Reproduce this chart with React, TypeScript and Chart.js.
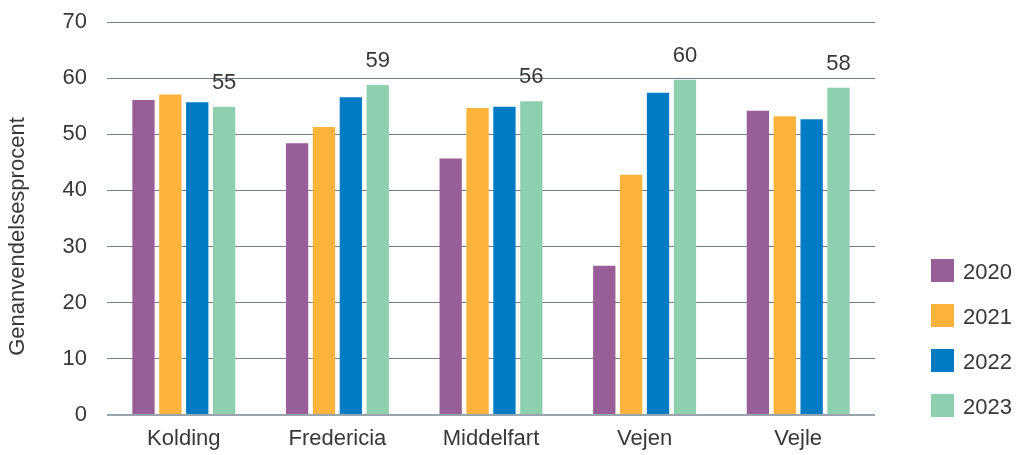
import React, { useEffect, useRef } from "react";
import { Chart, registerables } from "chart.js";

Chart.register(...registerables);

const categories = ["Kolding", "Fredericia", "Middelfart", "Vejen", "Vejle"];
const seriesNames = ["2020", "2021", "2022", "2023"];
const values2020 = [56.1, 48.4, 45.7, 26.6, 54.2];
const values2021 = [57.1, 51.3, 54.7, 42.8, 53.2];
const values2022 = [55.7, 56.6, 54.9, 57.4, 52.7];
const values2023 = [54.9, 58.8, 55.9, 59.7, 58.3];
const labels2023 = ["55", "59", "56", "60", "58"];
const yTicks = [0, 10, 20, 30, 40, 50, 60, 70];
const yTitle = "Genanvendelsesprocent";

const colors = ["#985E98", "#FBB33B", "#007BC4", "#8ECFAF"];
const FONT = "'Liberation Sans', Arial, sans-serif";
const TEXT = "#383838";

const overlayPlugin = {
  id: "overlay",
  afterDatasetsDraw(chart: any) {
    const ctx = chart.ctx;
    ctx.save();
    // value labels above 2023 bars
    const meta = chart.getDatasetMeta(3);
    ctx.font = `22px ${FONT}`;
    ctx.fillStyle = TEXT;
    ctx.textAlign = "center";
    ctx.textBaseline = "alphabetic";
    meta.data.forEach((bar: any, i: number) => {
      ctx.fillText(labels2023[i], bar.x, bar.y - 18);
    });
    // y title
    ctx.save();
    ctx.translate(24, 236.5);
    ctx.rotate(-Math.PI / 2);
    ctx.font = `22px ${FONT}`;
    ctx.textAlign = "center";
    ctx.textBaseline = "alphabetic";
    ctx.fillText(yTitle, 0, 0);
    ctx.restore();
    // legend
    const boxX = 931;
    const boxY0 = 259;
    const step = 45;
    ctx.font = `22px ${FONT}`;
    ctx.textAlign = "left";
    ctx.textBaseline = "alphabetic";
    seriesNames.forEach((name, i) => {
      const y = boxY0 + i * step;
      ctx.fillStyle = colors[i];
      ctx.fillRect(boxX, y, 23, 23);
      ctx.fillStyle = TEXT;
      ctx.fillText(name, 963, y + 19.5);
    });
    ctx.restore();
  },
};

export default function App() {
  const ref = useRef<HTMLCanvasElement>(null);
  useEffect(() => {
    const series = [values2020, values2021, values2022, values2023];
    const chart = new Chart(ref.current as HTMLCanvasElement, {
      type: "bar",
      data: {
        labels: categories,
        datasets: series.map((d, i) => ({
          label: seriesNames[i],
          data: d,
          backgroundColor: colors[i],
          borderWidth: 0,
          categoryPercentage: 0.7,
          barPercentage: 0.83,
        })),
      },
      options: {
        animation: false,
        responsive: false,
        maintainAspectRatio: false,
        layout: { padding: { top: 22, right: 142, left: 0, bottom: 0 } },
        plugins: {
          legend: { display: false },
          tooltip: { enabled: false },
        },
        scales: {
          x: {
            grid: { display: false, drawTicks: false },
            border: { display: false },
            ticks: {
              color: TEXT,
              font: { family: FONT, size: 22 },
              padding: 11,
              maxRotation: 0,
              autoSkip: false,
            },
            afterFit(scale: any) {
              scale.height = 40;
              scale.paddingLeft = 0;
              scale.paddingRight = 0;
              scale.paddingTop = 0;
              scale.paddingBottom = 0;
            },
          },
          y: {
            min: 0,
            max: 70,
            afterBuildTicks(scale: any) {
              scale.ticks = yTicks.map((v) => ({ value: v }));
            },
            grid: {
              drawTicks: false,
              color: (c: any) => (c.tick && c.tick.value === 0 ? "#9aa4ad" : "#6f7d8a"),
              lineWidth: (c: any) => (c.tick && c.tick.value === 0 ? 2 : 1),
            },
            border: { display: false },
            ticks: {
              color: TEXT,
              font: { family: FONT, size: 22 },
              padding: 20,
            },
            afterFit(scale: any) {
              scale.width = 107;
              scale.paddingTop = 0;
              scale.paddingBottom = 0;
              scale.paddingLeft = 0;
              scale.paddingRight = 0;
            },
          },
        },
      },
      plugins: [overlayPlugin],
    });
    return () => chart.destroy();
  }, []);
  return (
    <div style={{ position: "absolute", left: 0, top: 0, width: 1017, height: 455, background: "#fff" }}>
      <canvas ref={ref} width={1017} height={455} style={{ width: 1017, height: 455 }} />
    </div>
  );
}
